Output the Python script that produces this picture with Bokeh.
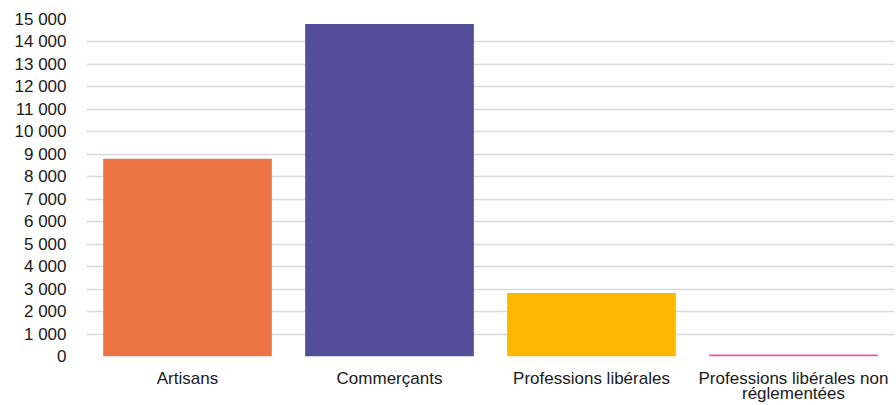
from bokeh.plotting import figure
from bokeh.models import ColumnDataSource, FactorRange, Range1d, FixedTicker, CustomJSTickFormatter, CategoricalAxis
from bokeh.embed import file_html
from bokeh.resources import INLINE

categories = ["Artisans", "Commerçants", "Professions libérales", "Professions libérales non réglementées"]
tick_labels_line1 = ["Artisans", "Commerçants", "Professions libérales", "Professions libérales non"]
tick_labels_line2 = ["", "", "", "réglementées"]
values = [8800, 14800, 2830, 90]
colors = ["#ED7545", "#524E9A", "#FBB800", "#E0609A"]
y_ticks = list(range(0, 15001, 1000))

source = ColumnDataSource(dict(cat=categories, val=values, color=colors))

p = figure(width=896, height=405, x_range=FactorRange(*categories, range_padding=0),
           y_range=Range1d(0, 15000), output_backend="svg", toolbar_location=None,
           min_border_left=86, min_border_right=2, min_border_top=19, min_border_bottom=0)
p.outline_line_color = None
p.vbar(x="cat", top="val", width=0.835, color="color", source=source, line_color=None)

p.xgrid.grid_line_color = None
p.ygrid.grid_line_color = "#D9D9D9"
p.ygrid.grid_line_width = 1.5
p.ygrid.ticker = FixedTicker(ticks=y_ticks)

p.yaxis.ticker = FixedTicker(ticks=y_ticks)
p.yaxis.formatter = CustomJSTickFormatter(code="""
return tick.toFixed(0).replace(/\\B(?=(\\d{3})+(?!\\d))/g, " ");
""")
p.yaxis.axis_line_color = None
p.yaxis.major_tick_line_color = None
p.yaxis.minor_tick_line_color = None
p.yaxis.major_label_standoff = 14
p.yaxis.major_label_text_font = "Liberation Sans"
p.yaxis.major_label_text_font_size = "17px"
p.yaxis.major_label_text_color = "#1a1a1a"

label_code = """
const i = cats.indexOf(tick);
return i >= 0 ? labels[i] : String(tick);
"""

xa = p.xaxis[0]
xa.major_label_standoff = 12
xa.formatter = CustomJSTickFormatter(args=dict(cats=categories, labels=tick_labels_line1), code=label_code)

xa2 = CategoricalAxis(major_label_standoff=-7,
                      formatter=CustomJSTickFormatter(args=dict(cats=categories, labels=tick_labels_line2), code=label_code))
p.add_layout(xa2, "below")

for ax in (xa, xa2):
    ax.axis_line_color = None
    ax.major_tick_line_color = None
    ax.minor_tick_line_color = None
    ax.major_tick_out = 0
    ax.major_tick_in = 0
    ax.major_label_text_font = "Liberation Sans"
    ax.major_label_text_font_size = "17px"
    ax.major_label_text_color = "#1a1a1a"

open("out.html", "w").write(file_html(p, INLINE))
